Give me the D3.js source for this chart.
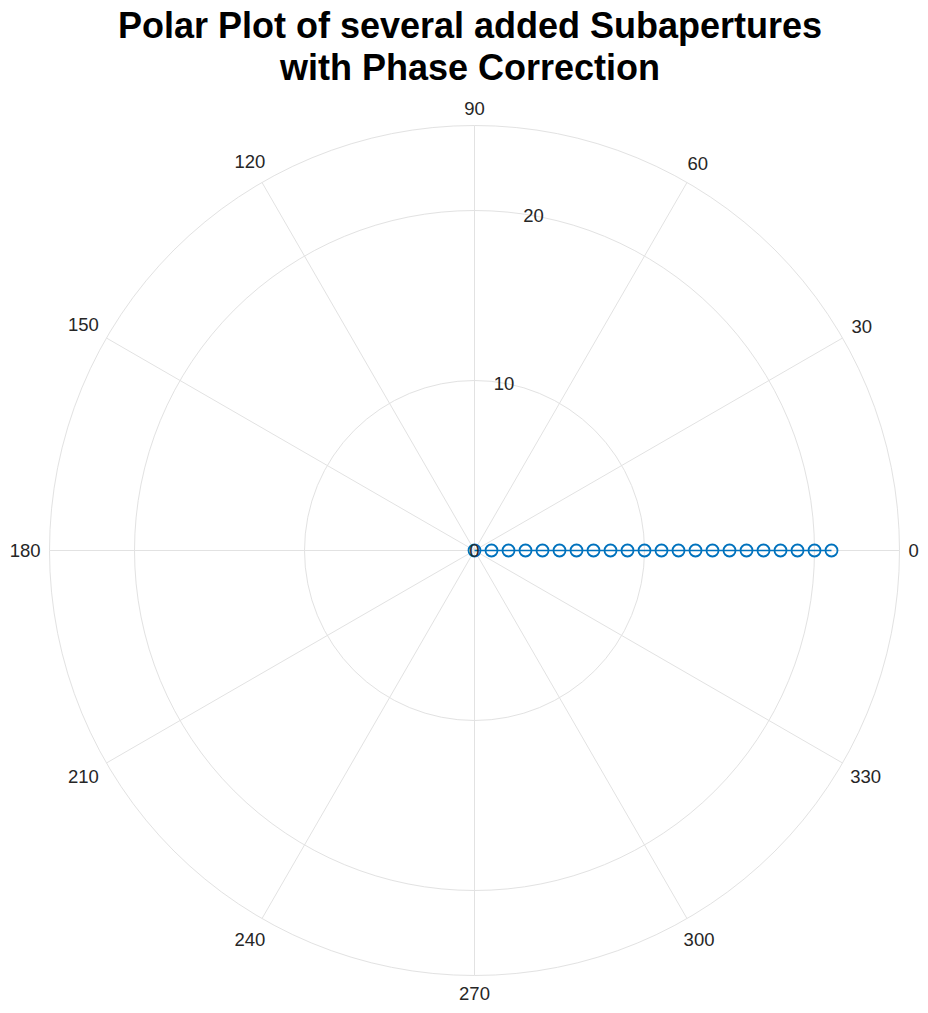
<!DOCTYPE html>
<html>
<head>
<meta charset="utf-8">
<script src="https://cdn.jsdelivr.net/npm/d3@7"></script>
<style>
  body { margin: 0; background: #fff; }
  svg { display: block; font-family: "Liberation Sans", Arial, Helvetica, sans-serif; }
</style>
</head>
<body>
<svg width="928" height="1013"></svg>
<script>
// data: theta in degrees, rho in radial units
var thetaDeg = [0, 0, 0, 0, 0, 0, 0, 0, 0, 0, 0, 0, 0, 0, 0, 0, 0, 0, 0, 0, 0, 0];
var rho = [0, 1, 2, 3, 4, 5, 6, 7, 8, 9, 10, 11, 12, 13, 14, 15, 16, 17, 18, 19, 20, 21];
var angleTicks = [0, 30, 60, 90, 120, 150, 180, 210, 240, 270, 300, 330];
var radialTicks = [0, 10, 20];
var rMax = 25;
var titleLines = ["Polar Plot of several added Subapertures", "with Phase Correction"];

var svg = d3.select("svg");
var cx = 474.5, cy = 550.5, R = 425;
var gridColor = "#e2e2e2";
var textColor = "#262626";

var r = d3.scaleLinear().domain([0, rMax]).range([0, R]);

function px(deg, rad) { return cx + rad * Math.cos(deg * Math.PI / 180); }
function py(deg, rad) { return cy - rad * Math.sin(deg * Math.PI / 180); }

var g = svg.append("g");

// rings
g.selectAll("circle.ring")
    .data(radialTicks.filter(function (d) { return d > 0; }).concat([rMax]))
    .enter()
    .append("circle")
    .attr("class", "ring")
    .attr("cx", cx)
    .attr("cy", cy)
    .attr("r", function (d) { return r(d); })
    .attr("fill", "none")
    .attr("stroke", gridColor)
    .attr("stroke-width", 1);

// spokes
g.selectAll("line.spoke")
    .data(angleTicks)
    .enter()
    .append("line")
    .attr("class", "spoke")
    .attr("x1", cx)
    .attr("y1", cy)
    .attr("x2", function (d) { return px(d, R); })
    .attr("y2", function (d) { return py(d, R); })
    .attr("stroke", gridColor)
    .attr("stroke-width", 1);

// angle labels
var fs = 18.5;
g.selectAll("text.alab")
    .data(angleTicks)
    .enter()
    .append("text")
    .attr("class", "alab")
    .attr("font-size", fs)
    .attr("fill", textColor)
    .attr("text-anchor", "middle")
    .attr("dominant-baseline", "central")
    .text(function (d) { return d; })
    .each(function (d) {
        var w = this.getComputedTextLength();
        var a = d * Math.PI / 180;
        var ext = Math.abs(Math.cos(a)) * w / 2 + Math.abs(Math.sin(a)) * 8.5;
        var rr = R + 9 + ext;
        d3.select(this).attr("x", px(d, rr)).attr("y", py(d, rr));
    });

// data line + markers
var line = d3.line()
    .x(function (d, i) { return px(thetaDeg[i], r(d)); })
    .y(function (d, i) { return py(thetaDeg[i], r(d)); });

g.append("path")
    .datum(rho)
    .attr("d", line)
    .attr("fill", "none")
    .attr("stroke", "#0072BD")
    .attr("stroke-width", 1.5);

g.selectAll("circle.pt")
    .data(rho)
    .enter()
    .append("circle")
    .attr("class", "pt")
    .attr("cx", function (d, i) { return px(thetaDeg[i], r(d)); })
    .attr("cy", function (d, i) { return py(thetaDeg[i], r(d)); })
    .attr("r", 6)
    .attr("fill", "none")
    .attr("stroke", "#0072BD")
    .attr("stroke-width", 1.8);

// radial tick labels at 80 degrees
g.selectAll("text.rlab")
    .data(radialTicks)
    .enter()
    .append("text")
    .attr("class", "rlab")
    .attr("font-size", fs)
    .attr("fill", textColor)
    .attr("text-anchor", "middle")
    .attr("dominant-baseline", "central")
    .attr("x", function (d) { return px(80, r(d)); })
    .attr("y", function (d) { return py(80, r(d)); })
    .text(function (d) { return d; });

// title
svg.selectAll("text.title")
    .data(titleLines)
    .enter()
    .append("text")
    .attr("class", "title")
    .attr("x", 470)
    .attr("y", function (d, i) { return 38 + i * 42; })
    .attr("text-anchor", "middle")
    .attr("font-size", 36)
    .attr("font-weight", "bold")
    .attr("fill", "#000")
    .text(function (d) { return d; });
</script>
</body>
</html>
